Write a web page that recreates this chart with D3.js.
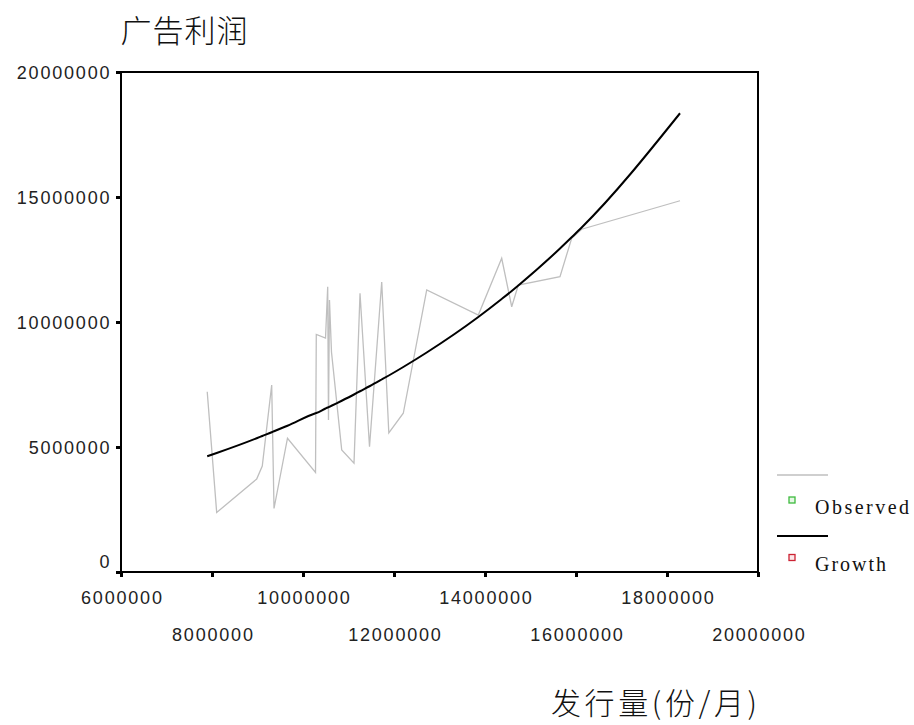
<!DOCTYPE html>
<html>
<head>
<meta charset="utf-8">
<script src="https://cdn.jsdelivr.net/npm/d3@7"></script>
<style>
  html, body { margin: 0; padding: 0; background: #fff; }
  svg { display: block; }
</style>
</head>
<body>
<svg id="chart" width="914" height="725"></svg>
<script>
// ---- data ----
const circulation = [7895000, 8103000, 8982000, 9105000, 9312000, 9363000, 9659000, 10275000, 10292000, 10495000,
  10543000, 10560000, 10582000, 10626000, 10851000, 11121000, 11253000, 11462000, 11730000, 11886000,
  12204000, 12719000, 13853000, 14367000, 14587000, 14732000, 15648000, 15905000, 16125000, 18286000];
const observed = [7210000, 2380000, 3720000, 4240000, 7480000, 2540000, 5350000, 3980000, 9500000, 9360000,
  11410000, 6080000, 10880000, 8800000, 4880000, 4350000, 11150000, 5010000, 11600000, 5560000,
  6350000, 11280000, 10280000, 12550000, 10610000, 11480000, 11810000, 13350000, 13710000, 14850000];
const growth = [4630000, 4760000, 5350000, 5440000, 5590000, 5630000, 5850000, 6350000, 6360000, 6540000,
  6580000, 6590000, 6610000, 6650000, 6850000, 7100000, 7230000, 7430000, 7700000, 7860000,
  8200000, 8780000, 10200000, 10920000, 11240000, 11460000, 12940000, 13390000, 13780000, 18350000];
const xTickValues = [6000000, 8000000, 10000000, 12000000, 14000000, 16000000, 18000000, 20000000];
const xTickLabels = ["6000000", "8000000", "10000000", "12000000", "14000000", "16000000", "18000000", "20000000"];
const yTickValues = [0, 5000000, 10000000, 15000000, 20000000];
const yTickLabels = ["0", "5000000", "10000000", "15000000", "20000000"];
const seriesNames = ["Observed", "Growth"];
const chartTitle = "广告利润";
const xTitle = "发行量(份/月)";

// ---- layout ----
const svg = d3.select("#chart");
const x = d3.scaleLinear().domain([6000000, 20000000]).range([121, 758]);
const y = d3.scaleLinear().domain([0, 20000000]).range([572, 72]);

const numFont = "'Liberation Sans', Arial, sans-serif";
const ls = 1.8;

// plot frame
svg.append("rect")
  .attr("x", x(6000000)).attr("y", y(20000000))
  .attr("width", x(20000000) - x(6000000)).attr("height", y(0) - y(20000000))
  .attr("fill", "none").attr("stroke", "#000").attr("stroke-width", 2);

// y axis
const yAxis = svg.append("g").attr("transform", `translate(${x(6000000)},0)`)
  .call(d3.axisLeft(y).tickValues(yTickValues).tickSizeInner(5).tickSizeOuter(0)
    .tickFormat((d, i) => yTickLabels[i]).tickPadding(6));
yAxis.select(".domain").remove();
yAxis.selectAll(".tick line").attr("stroke", "#000").attr("stroke-width", 3);
yAxis.selectAll(".tick text")
  .attr("font-family", numFont).attr("font-size", 18).attr("fill", "#222")
  .attr("letter-spacing", ls)
  .attr("x", -11.5 + ls)
  .attr("dy", null)
  .attr("y", (d, i) => i === 0 ? -5 : 6.5);

// x axis
const xAxis = svg.append("g").attr("transform", `translate(0,${y(0)})`)
  .call(d3.axisBottom(x).tickValues(xTickValues).tickSizeInner(5).tickSizeOuter(0)
    .tickFormat((d, i) => xTickLabels[i]));
xAxis.select(".domain").remove();
xAxis.selectAll(".tick line").attr("stroke", "#000").attr("stroke-width", 3);
xAxis.selectAll(".tick text")
  .attr("font-family", numFont).attr("font-size", 18).attr("fill", "#222")
  .attr("letter-spacing", ls)
  .attr("x", ls / 2)
  .attr("dy", null)
  .attr("y", (d, i) => i % 2 === 0 ? 32 : 69);

// lines
const obsLine = d3.line().x((d, i) => x(circulation[i])).y(d => y(d));
const fitLine = d3.line().x((d, i) => x(circulation[i])).y(d => y(d)).curve(d3.curveMonotoneX);

svg.append("path").attr("d", obsLine(observed))
  .attr("fill", "none").attr("stroke", "#bfbfbf").attr("stroke-width", 1.3)
  .attr("stroke-linejoin", "miter");
svg.append("path").attr("d", fitLine(growth))
  .attr("fill", "none").attr("stroke", "#000").attr("stroke-width", 2);

// titles
svg.append("text").text(chartTitle)
  .attr("x", 120.5).attr("y", 41.5)
  .attr("font-family", "'Noto Sans CJK SC', sans-serif").attr("font-size", 31).attr("font-weight", 300)
  .attr("textLength", 127).attr("lengthAdjust", "spacing")
  .attr("fill", "#111");
svg.append("text").text(xTitle)
  .attr("x", 551).attr("y", 714)
  .attr("font-family", "'Noto Sans CJK SC', sans-serif").attr("font-size", 30).attr("font-weight", 300)
  .attr("textLength", 206).attr("lengthAdjust", "spacing")
  .attr("fill", "#111");

// legend
const legend = svg.append("g");
const legendItems = [
  { name: seriesNames[0], lineY: 475, lineColor: "#bfbfbf", lineW: 1.3, boxY: 500, box: "#3dbb3d", boxFill: "#e6f7e6", textY: 514, len: 94 },
  { name: seriesNames[1], lineY: 536, lineColor: "#000", lineW: 2, boxY: 557.5, box: "#cc2233", boxFill: "#fbe6e8", textY: 571, len: 71 }
];
legendItems.forEach(it => {
  legend.append("line").attr("x1", 777).attr("x2", 828).attr("y1", it.lineY).attr("y2", it.lineY)
    .attr("stroke", it.lineColor).attr("stroke-width", it.lineW);
  legend.append("rect").attr("x", 789).attr("y", it.boxY - 3).attr("width", 6).attr("height", 6)
    .attr("fill", it.boxFill).attr("stroke", it.box).attr("stroke-width", 1.3);
  legend.append("text").text(it.name).attr("x", 815).attr("y", it.textY)
    .attr("font-family", "'Liberation Serif', 'Times New Roman', serif").attr("font-size", 20)
    .attr("textLength", it.len).attr("lengthAdjust", "spacing")
    .attr("fill", "#111");
});
</script>
</body>
</html>
